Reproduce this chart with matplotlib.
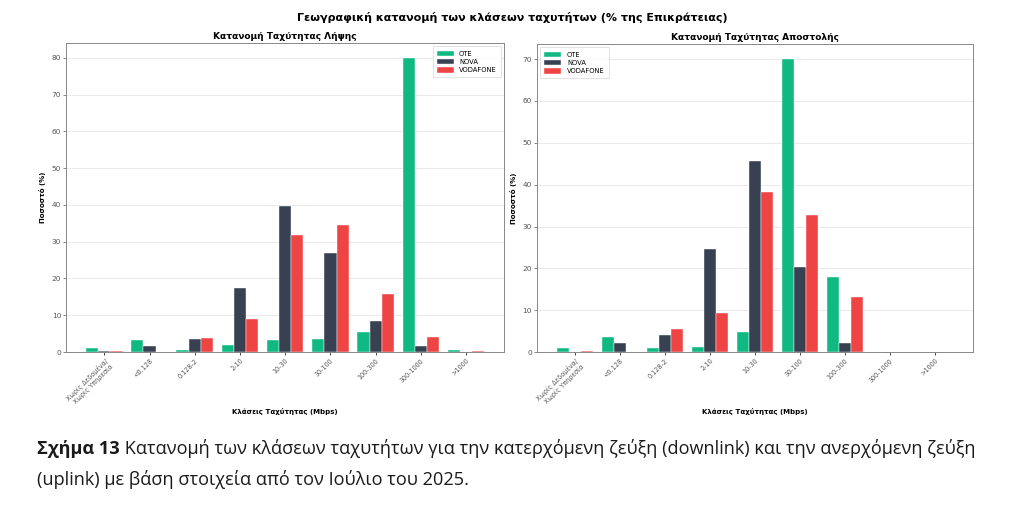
import matplotlib
matplotlib.use("Agg")
import matplotlib.pyplot as plt
import numpy as np

plt.rcParams['font.family'] = ['DejaVu Sans']

categories = ["Χωρίς Δεδομένα/\nΧωρίς Υπηρεσία", "<0.128", "0.128-2", "2-10", "10-30",
              "30-100", "100-300", "300-1000", ">1000"]
operators = ["OTE", "NOVA", "VODAFONE"]
colors = ["#10b981", "#374151", "#ef4444"]

download_ote = [1.0, 3.3, 0.5, 1.8, 3.2, 3.6, 5.4, 80.0, 0.6]
download_nova = [0.3, 1.6, 3.6, 17.4, 39.7, 27.0, 8.4, 1.7, 0.0]
download_voda = [0.3, 0.0, 3.9, 8.9, 31.8, 34.4, 15.9, 4.1, 0.2]

upload_ote = [1.0, 3.5, 1.0, 1.2, 4.7, 70.1, 18.0, 0.0, 0.0]
upload_nova = [0.0, 2.2, 4.1, 24.7, 45.6, 20.4, 2.2, 0.0, 0.0]
upload_voda = [0.3, 0.0, 5.5, 9.4, 38.2, 32.7, 13.1, 0.0, 0.0]

title_main = "Γεωγραφική κατανομή των κλάσεων ταχυτήτων (% της Επικράτειας)"
title_left = "Κατανομή Ταχύτητας Λήψης"
title_right = "Κατανομή Ταχύτητας Αποστολής"
xlabel = "Κλάσεις Ταχύτητας (Mbps)"
ylabel = "Ποσοστό (%)"
caption_bold = "Σχήμα 13"
caption_rest = " Κατανομή των κλάσεων ταχυτήτων για την κατερχόμενη ζεύξη (downlink) και την ανερχόμενη ζεύξη"
caption_line2 = "(uplink) με βάση στοιχεία από τον Ιούλιο του 2025."

fig = plt.figure(figsize=(10.24, 5.09), dpi=100)
fig.patch.set_facecolor("white")

ax1 = fig.add_axes([0.0645, 0.3084, 0.428, 0.607])
ax2 = fig.add_axes([0.5244, 0.3084, 0.4258, 0.605])

x = np.arange(len(categories))
w = 0.27

def draw(ax, series, title, legend_loc):
    for i, (vals, name, c) in enumerate(zip(series, operators, colors)):
        ax.bar(x + (i - 1) * w, vals, w, color=c, label=name,
               edgecolor="white", linewidth=0.3)
    ax.set_title(title, fontsize=6.5, fontweight="bold", pad=3)
    ax.set_xlabel(xlabel, fontsize=5, fontweight="bold", labelpad=0)
    ax.set_ylabel(ylabel, fontsize=5, fontweight="bold", labelpad=4)
    ax.set_xticks(x)
    ax.set_xticklabels(categories, rotation=45, ha="right", fontsize=4.7,
                       color="#555555", rotation_mode="anchor")
    ax.tick_params(axis="y", labelsize=5.3, colors="#555555", length=2, width=0.5, pad=1.5)
    ax.tick_params(axis="x", length=2, width=0.5, pad=2)
    ax.yaxis.grid(True, color="#e5e5e5", linewidth=0.6)
    ax.set_axisbelow(True)
    for s in ax.spines.values():
        s.set_color("#888888")
        s.set_linewidth(0.7)
    leg = ax.legend(loc=legend_loc, fontsize=4.9, frameon=True, fancybox=False,
                    handlelength=2.5, handleheight=0.8, borderpad=0.6,
                    labelspacing=0.35)
    leg.get_frame().set_edgecolor("#cccccc")
    leg.get_frame().set_linewidth(0.5)

draw(ax1, [download_ote, download_nova, download_voda], title_left, "upper right")
draw(ax2, [upload_ote, upload_nova, upload_voda], title_right, "upper left")

fig.text(0.5, 0.966, title_main, ha="center", va="center", fontsize=8, fontweight="bold")

cap_font = "Open Sans"
fs = 13.1
t1 = fig.text(0.036, 0.108, caption_bold, fontsize=fs, fontweight="bold",
              family=cap_font, va="baseline", color="#1a1a1a")
fig.canvas.draw()
bb = t1.get_window_extent()
x_next = bb.x1 / fig.bbox.width
fig.text(x_next, 0.108, caption_rest, fontsize=fs, family=cap_font,
         va="baseline", color="#1a1a1a")
fig.text(0.036, 0.047, caption_line2, fontsize=fs, family=cap_font,
         va="baseline", color="#1a1a1a")

fig.savefig("out.png", dpi=100, facecolor="white")
